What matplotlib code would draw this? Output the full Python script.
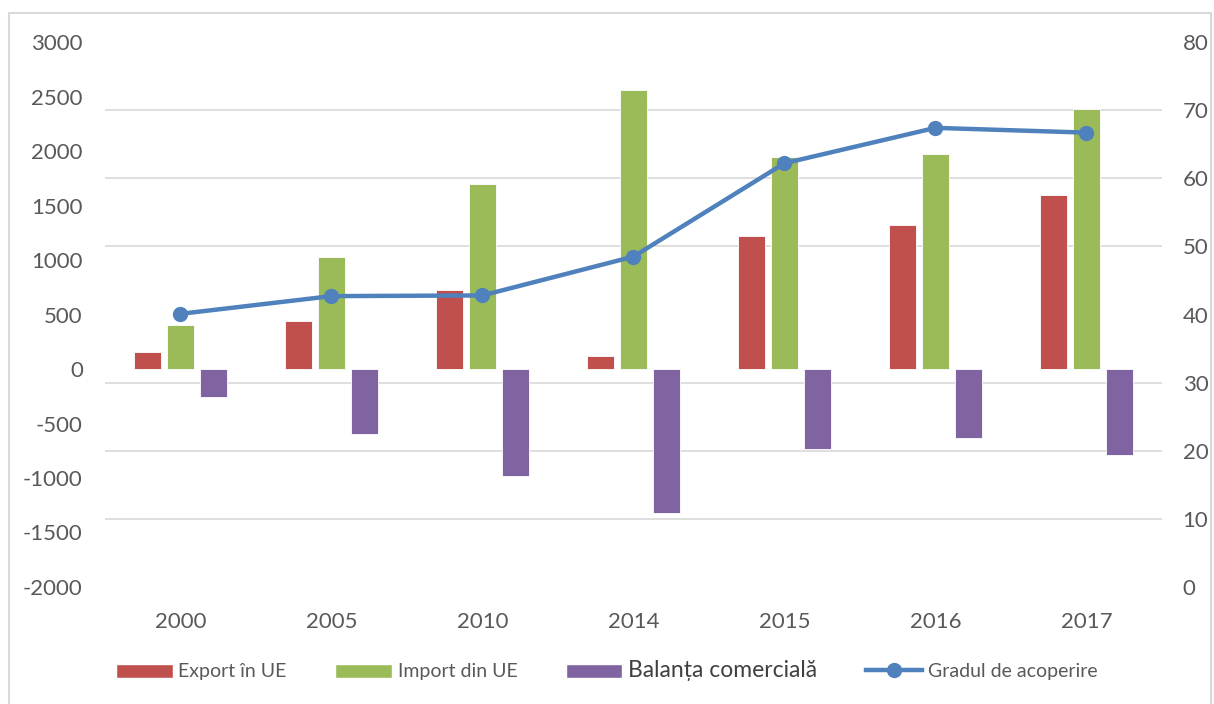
import numpy as np
import matplotlib
matplotlib.use("Agg")
import matplotlib.pyplot as plt
from matplotlib.patches import Rectangle, Patch
from matplotlib.lines import Line2D

plt.rcParams['font.family'] = ['Lato', 'DejaVu Sans']
plt.rcParams['axes.unicode_minus'] = False

# Data
years = ['2000', '2005', '2010', '2014', '2015', '2016', '2017']
export_ue = [159, 441, 725, 122, 1218, 1325, 1595]
import_ue = [404, 1028, 1699, 2559, 1947, 1971, 2385]
balanta = [-254, -594, -983, -1322, -735, -634, -790]
gradul = [40.1, 42.7, 42.8, 48.5, 62.2, 67.4, 66.7]

c_exp = "#C0504D"
c_imp = "#9BBB59"
c_bal = "#8064A2"
c_line = "#4F81BD"
c_txt = "#595959"

fig = plt.figure(figsize=(12.14, 7.04), dpi=100)
ax = fig.add_axes([0.0865, 0.1662, 0.8705, 0.7741])
ax2 = ax.twinx()

x = np.arange(len(years))
w = 0.18
off = 0.22
ax.bar(x - off, export_ue, w, color=c_exp, edgecolor="white", linewidth=0.6, zorder=3)
ax.bar(x, import_ue, w, color=c_imp, edgecolor="white", linewidth=0.6, zorder=3)
ax.bar(x + off, balanta, w, color=c_bal, edgecolor="white", linewidth=0.6, zorder=3)

ax.set_xlim(-0.5, len(years) - 0.5)
ax.set_ylim(-2000, 3000)
ax.set_yticks(np.arange(-2000, 3001, 500))
# gridlines follow the right axis (0..80 by 10)
ax.set_yticks(np.linspace(-2000, 3000, 9), minor=True)
ax.grid(True, which="minor", axis="y", color="#D9D9D9", linewidth=1.2, zorder=0)
ax.grid(False, which="major")
ax.set_xticks(x)
ax.set_xticklabels(years)

ax2.plot(x, gradul, color=c_line, linewidth=3.2, marker="o", markersize=10, zorder=5)
ax2.set_ylim(0, 80)
ax2.set_yticks(np.arange(0, 81, 10))

for a in (ax, ax2):
    for s in a.spines.values():
        s.set_visible(False)
    a.tick_params(axis="both", which="both", length=0, labelsize=16, colors=c_txt)
ax.tick_params(axis="x", pad=18)
ax.tick_params(axis="y", pad=16)
ax2.tick_params(axis="y", pad=15)

# Legend
handles = [
    Patch(facecolor=c_exp, edgecolor="white"),
    Patch(facecolor=c_imp, edgecolor="white"),
    Patch(facecolor=c_bal, edgecolor="white"),
    Line2D([0], [0], color=c_line, linewidth=3.2, marker="o", markersize=10),
]
labels = ["Export în UE", "Import din UE", "Balanța comercială", "Gradul de acoperire"]
leg = fig.legend(handles, labels, loc="center", bbox_to_anchor=(0.5, 0.047), ncol=4,
                 frameon=False, fontsize=14, handlelength=2.9, handleheight=0.75,
                 handletextpad=0.3, columnspacing=2.5)
for t in leg.get_texts():
    t.set_color(c_txt)
leg.get_texts()[2].set_fontsize(16.5)
leg.get_texts()[2].set_color("#404040")

# outer border
fig.patches.append(Rectangle((0.0074, -0.01), 0.99, 0.9915, transform=fig.transFigure,
                             fill=False, edgecolor="#D9D9D9", linewidth=1.5))

fig.savefig("out.png", dpi=100)
